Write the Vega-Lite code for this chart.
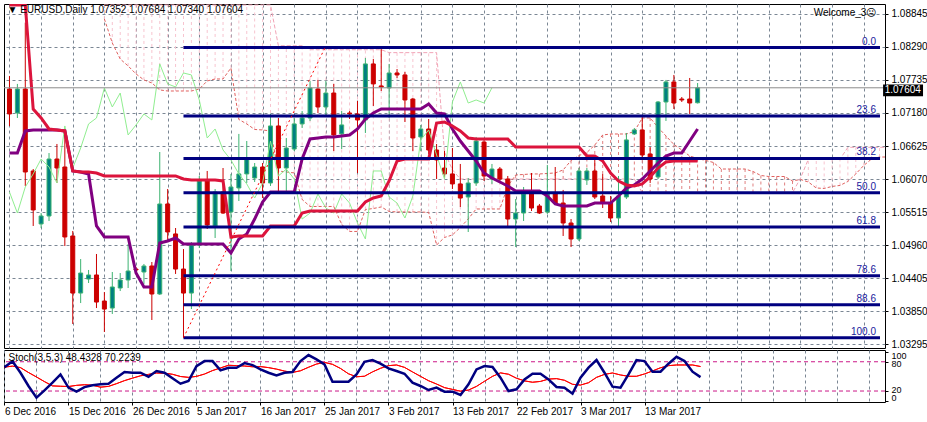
{
"$schema":"https://vega.github.io/schema/vega-lite/v6.json",
"background":"#ffffff",
"padding":{"left":3,"top":3,"right":0,"bottom":0},
"autosize":{"type":"pad"},
"bounds":"flush",
"spacing":2,
"config":{"view":{"stroke":"#000000","strokeWidth":1},"font":"Liberation Sans","axis":{"labelOverlap":false},"title":{"font":"Liberation Sans","fontSize":10,"fontWeight":"normal","color":"#000000","anchor":"start"}},
"datasets":{
"bars":[
{"i":0,"o":1.07584,"h":1.07803,"l":1.06962,"c":1.07164,"t":1.06507,"k":1.08997,"ck":1.05851,"s":69,"sig":69},
{"i":1,"o":1.0718,"h":1.07669,"l":1.07096,"c":1.07584,"t":1.06507,"k":1.08997,"ck":1.05498,"s":81,"sig":71},
{"i":2,"o":1.07584,"h":1.087,"l":1.05953,"c":1.06188,"t":1.06878,"k":1.08997,"ck":1.05936,"s":57.5,"sig":68},
{"i":3,"o":1.06205,"h":1.06238,"l":1.0528,"c":1.05549,"t":1.06895,"k":1.07247,"ck":1.06155,"s":30.3,"sig":58},
{"i":4,"o":1.05314,"h":1.05498,"l":1.05246,"c":1.05448,"t":1.06895,"k":1.07096,"ck":1.06406,"s":6.4,"sig":48.8},
{"i":5,"o":1.05448,"h":1.06507,"l":1.05364,"c":1.06406,"t":1.06895,"k":1.06911,"ck":1.06272,"s":21.4,"sig":39.3},
{"i":6,"o":1.06406,"h":1.06659,"l":1.06003,"c":1.06255,"t":1.06895,"k":1.06895,"ck":1.06003,"s":37,"sig":30.5},
{"i":7,"o":1.06272,"h":1.06878,"l":1.04943,"c":1.05095,"t":1.06878,"k":1.06878,"ck":1.06962,"s":54,"sig":29.8},
{"i":8,"o":1.05112,"h":1.05196,"l":1.03632,"c":1.04152,"t":1.06205,"k":1.06205,"ck":1.06255,"s":27,"sig":29.2},
{"i":9,"o":1.04152,"h":1.04724,"l":1.03984,"c":1.04489,"t":1.06188,"k":1.06188,"ck":1.06591,"s":18.7,"sig":31.6},
{"i":10,"o":1.04388,"h":1.0454,"l":1.04321,"c":1.04456,"t":1.06155,"k":1.06188,"ck":1.06996,"s":28,"sig":32.9},
{"i":11,"o":1.04456,"h":1.04809,"l":1.039,"c":1.04001,"t":1.0528,"k":1.06171,"ck":1.07096,"s":32,"sig":31.9},
{"i":12,"o":1.04018,"h":1.04169,"l":1.03497,"c":1.03883,"t":1.05095,"k":1.06121,"ck":1.07601,"s":33.7,"sig":27.9},
{"i":13,"o":1.039,"h":1.04506,"l":1.038,"c":1.04254,"t":1.05095,"k":1.06121,"ck":1.07281,"s":35,"sig":29.5},
{"i":14,"o":1.04237,"h":1.04489,"l":1.04186,"c":1.04372,"t":1.05095,"k":1.06121,"ck":1.07516,"s":47,"sig":35.1},
{"i":15,"o":1.04372,"h":1.04977,"l":1.04237,"c":1.04523,"t":1.05095,"k":1.06121,"ck":1.06811,"s":59,"sig":41.3},
{"i":16,"o":1.04556,"h":1.0459,"l":1.04506,"c":1.0454,"t":1.04489,"k":1.06121,"ck":1.06979,"s":57.5,"sig":46.4},
{"i":17,"o":1.04506,"h":1.04641,"l":1.04305,"c":1.04607,"t":1.04254,"k":1.06121,"ck":1.07164,"s":57.5,"sig":51.2},
{"i":18,"o":1.04607,"h":1.04674,"l":1.03699,"c":1.04136,"t":1.04254,"k":1.06121,"ck":1.07063,"s":49.4,"sig":54.1},
{"i":19,"o":1.04136,"h":1.06524,"l":1.04119,"c":1.0565,"t":1.04993,"k":1.06121,"ck":1.08005,"s":61,"sig":56.9},
{"i":20,"o":1.0565,"h":1.05902,"l":1.05027,"c":1.05179,"t":1.05027,"k":1.06121,"ck":1.07669,"s":57.5,"sig":56.6},
{"i":21,"o":1.05146,"h":1.05246,"l":1.04473,"c":1.04556,"t":1.05078,"k":1.06121,"ck":1.07618,"s":46,"sig":54.3},
{"i":22,"o":1.04556,"h":1.04892,"l":1.034,"c":1.04152,"t":1.04977,"k":1.0607,"ck":1.07853,"s":35,"sig":49.8},
{"i":23,"o":1.04152,"h":1.0501,"l":1.03883,"c":1.0496,"t":1.04977,"k":1.06054,"ck":1.0782,"s":40.5,"sig":48},
{"i":24,"o":1.0496,"h":1.06121,"l":1.04909,"c":1.06037,"t":1.04977,"k":1.06054,"ck":1.07399,"s":71,"sig":50},
{"i":25,"o":1.06037,"h":1.06205,"l":1.05229,"c":1.05297,"t":1.04977,"k":1.06054,"ck":1.0676,"s":81.4,"sig":54.8},
{"i":26,"o":1.0528,"h":1.05902,"l":1.05078,"c":1.05851,"t":1.04977,"k":1.06054,"ck":1.06911,"s":81.4,"sig":61.9},
{"i":27,"o":1.05851,"h":1.06255,"l":1.05482,"c":1.05498,"t":1.04977,"k":1.06037,"ck":1.06558,"s":62.3,"sig":67.3},
{"i":28,"o":1.05515,"h":1.06155,"l":1.04523,"c":1.05936,"t":1.04825,"k":1.05095,"ck":1.0639,"s":67.8,"sig":72.8},
{"i":29,"o":1.05919,"h":1.06828,"l":1.057,"c":1.06155,"t":1.05061,"k":1.05112,"ck":1.06155,"s":67.8,"sig":72.1},
{"i":30,"o":1.06155,"h":1.06709,"l":1.06003,"c":1.06406,"t":1.05146,"k":1.05112,"ck":1.05987,"s":77.3,"sig":71.3},
{"i":31,"o":1.06087,"h":1.06339,"l":1.0602,"c":1.06272,"t":1.05397,"k":1.05112,"ck":1.0575,"s":73.2,"sig":69.7},
{"i":32,"o":1.06272,"h":1.06339,"l":1.0575,"c":1.06003,"t":1.05683,"k":1.05112,"ck":1.06003,"s":64.4,"sig":70.1},
{"i":33,"o":1.06003,"h":1.07164,"l":1.05953,"c":1.06962,"t":1.05851,"k":1.0528,"ck":1.06709,"s":57.5,"sig":68},
{"i":34,"o":1.06962,"h":1.07096,"l":1.05868,"c":1.06255,"t":1.05851,"k":1.0528,"ck":1.06121,"s":52,"sig":64.9},
{"i":35,"o":1.06255,"h":1.0676,"l":1.05868,"c":1.06591,"t":1.05851,"k":1.0528,"ck":1.06238,"s":57.5,"sig":60.9},
{"i":36,"o":1.06574,"h":1.07096,"l":1.06541,"c":1.06996,"t":1.05851,"k":1.0528,"ck":1.0607,"s":59,"sig":58.1},
{"i":37,"o":1.06996,"h":1.07214,"l":1.06928,"c":1.07096,"t":1.06406,"k":1.05498,"ck":1.05397,"s":81.4,"sig":61.5},
{"i":38,"o":1.07096,"h":1.07719,"l":1.07046,"c":1.07601,"t":1.06743,"k":1.05532,"ck":1.05498,"s":93.7,"sig":68.7},
{"i":39,"o":1.07584,"h":1.07736,"l":1.0718,"c":1.07281,"t":1.0676,"k":1.05532,"ck":1.05818,"s":84.8,"sig":75.3},
{"i":40,"o":1.07281,"h":1.07719,"l":1.0713,"c":1.07516,"t":1.06777,"k":1.05532,"ck":1.05582,"s":74.6,"sig":78.7},
{"i":41,"o":1.07516,"h":1.07669,"l":1.06541,"c":1.06811,"t":1.06777,"k":1.05532,"ck":1.05498,"s":39.1,"sig":74.7},
{"i":42,"o":1.06828,"h":1.07214,"l":1.06574,"c":1.06979,"t":1.06794,"k":1.05532,"ck":1.05818,"s":39.1,"sig":66.3},
{"i":43,"o":1.0718,"h":1.07214,"l":1.07079,"c":1.07164,"t":1.06811,"k":1.05532,"ck":1.05666,"s":39.1,"sig":55.3},
{"i":44,"o":1.07164,"h":1.07382,"l":1.06171,"c":1.07063,"t":1.06911,"k":1.05532,"ck":1.0533,"s":54.2,"sig":49.2},
{"i":45,"o":1.07063,"h":1.08105,"l":1.06844,"c":1.08005,"t":1.07079,"k":1.05683,"ck":1.05061,"s":80,"sig":50.3},
{"i":46,"o":1.08005,"h":1.08088,"l":1.07298,"c":1.07669,"t":1.0718,"k":1.0575,"ck":1.06205,"s":83.5,"sig":59.2},
{"i":47,"o":1.07635,"h":1.0828,"l":1.0755,"c":1.07618,"t":1.07247,"k":1.05784,"ck":1.06205,"s":76,"sig":66.6},
{"i":48,"o":1.07601,"h":1.08005,"l":1.07096,"c":1.07853,"t":1.07247,"k":1.06037,"ck":1.05767,"s":66.4,"sig":72},
{"i":49,"o":1.07853,"h":1.0792,"l":1.07769,"c":1.0782,"t":1.07247,"k":1.06373,"ck":1.05666,"s":61,"sig":73.4},
{"i":50,"o":1.0782,"h":1.0787,"l":1.07029,"c":1.07399,"t":1.07247,"k":1.06406,"ck":1.05414,"s":55.5,"sig":68.5},
{"i":51,"o":1.07415,"h":1.07432,"l":1.06541,"c":1.0676,"t":1.07247,"k":1.06406,"ck":1.05784,"s":37.1,"sig":59.2},
{"i":52,"o":1.06777,"h":1.06979,"l":1.06541,"c":1.06911,"t":1.07247,"k":1.06406,"ck":1.06727,"s":30.3,"sig":50.1},
{"i":53,"o":1.06911,"h":1.07079,"l":1.06491,"c":1.06558,"t":1.07331,"k":1.06406,"ck":1.06895,"s":22.1,"sig":41.2},
{"i":54,"o":1.06558,"h":1.06659,"l":1.0607,"c":1.0639,"t":1.0718,"k":1.07012,"ck":1.06474,"s":26.9,"sig":34.4},
{"i":55,"o":1.06255,"h":1.06541,"l":1.0607,"c":1.06155,"t":1.07164,"k":1.07029,"ck":1.0607,"s":18.7,"sig":27},
{"i":56,"o":1.06155,"h":1.06591,"l":1.05902,"c":1.05987,"t":1.06911,"k":1.06962,"ck":1.07365,"s":18.7,"sig":23.3},
{"i":57,"o":1.05987,"h":1.06323,"l":1.05599,"c":1.0575,"t":1.06709,"k":1.06878,"ck":1.07702,"s":11.9,"sig":19.7},
{"i":58,"o":1.05767,"h":1.06087,"l":1.05179,"c":1.06003,"t":1.06541,"k":1.0676,"ck":1.07348,"s":33.7,"sig":22},
{"i":59,"o":1.06003,"h":1.06777,"l":1.05953,"c":1.06709,"t":1.06373,"k":1.06743,"ck":1.07399,"s":64.4,"sig":29.5},
{"i":60,"o":1.06692,"h":1.0676,"l":1.06037,"c":1.06121,"t":1.06171,"k":1.06743,"ck":1.07348,"s":71.2,"sig":40},
{"i":61,"o":1.0607,"h":1.06323,"l":1.05987,"c":1.06238,"t":1.06087,"k":1.06743,"ck":1.07604,"s":69.2,"sig":50.1},
{"i":62,"o":1.06238,"h":1.06272,"l":1.06003,"c":1.0607,"t":1.0602,"k":1.06743,"s":47.3,"sig":57.2},
{"i":63,"o":1.0607,"h":1.06121,"l":1.05246,"c":1.05397,"t":1.05953,"k":1.06743,"s":20,"sig":54.4},
{"i":64,"o":1.05397,"h":1.05733,"l":1.04926,"c":1.05498,"t":1.05868,"k":1.06608,"s":23.5,"sig":46.2},
{"i":65,"o":1.05498,"h":1.05936,"l":1.05364,"c":1.05818,"t":1.05868,"k":1.06608,"s":43.9,"sig":40.8},
{"i":66,"o":1.05818,"h":1.06171,"l":1.05532,"c":1.05582,"t":1.05868,"k":1.06608,"s":55.5,"sig":38},
{"i":67,"o":1.05616,"h":1.0565,"l":1.05482,"c":1.05498,"t":1.05868,"k":1.06608,"s":55.5,"sig":39.7},
{"i":68,"o":1.05515,"h":1.06306,"l":1.05482,"c":1.05818,"t":1.05784,"k":1.06608,"s":43.9,"sig":44.5},
{"i":69,"o":1.05818,"h":1.06272,"l":1.05633,"c":1.05666,"t":1.0565,"k":1.06608,"s":28.2,"sig":45.4},
{"i":70,"o":1.05666,"h":1.05886,"l":1.05112,"c":1.0533,"t":1.05616,"k":1.06608,"s":26.9,"sig":42},
{"i":71,"o":1.0533,"h":1.05397,"l":1.04926,"c":1.05061,"t":1.05616,"k":1.06608,"s":14.6,"sig":33.8},
{"i":72,"o":1.05061,"h":1.06255,"l":1.05027,"c":1.06205,"t":1.05616,"k":1.06608,"s":47.3,"sig":32.2},
{"i":73,"o":1.06054,"h":1.06255,"l":1.0597,"c":1.06205,"t":1.05616,"k":1.06457,"s":67.8,"sig":37},
{"i":74,"o":1.06205,"h":1.0639,"l":1.05733,"c":1.05767,"t":1.05666,"k":1.06457,"s":83.5,"sig":48},
{"i":75,"o":1.05784,"h":1.06155,"l":1.05582,"c":1.05666,"t":1.05666,"k":1.06373,"s":57.5,"sig":54.1},
{"i":76,"o":1.05666,"h":1.05784,"l":1.05347,"c":1.05414,"t":1.05666,"k":1.06171,"s":28.9,"sig":57},
{"i":77,"o":1.05414,"h":1.06121,"l":1.05246,"c":1.05784,"t":1.05784,"k":1.06037,"s":26.9,"sig":52.9},
{"i":78,"o":1.05767,"h":1.06844,"l":1.05733,"c":1.06727,"t":1.05919,"k":1.0597,"s":54.2,"sig":50.2},
{"i":79,"o":1.06828,"h":1.06928,"l":1.06811,"c":1.06895,"t":1.0597,"k":1.05953,"s":83.5,"sig":50.2},
{"i":80,"o":1.06895,"h":1.07113,"l":1.06406,"c":1.06474,"t":1.0607,"k":1.05987,"s":81.4,"sig":55},
{"i":81,"o":1.06491,"h":1.06608,"l":1.06003,"c":1.0607,"t":1.06205,"k":1.06104,"s":59.6,"sig":61.1},
{"i":82,"o":1.06104,"h":1.07382,"l":1.0607,"c":1.07365,"t":1.06339,"k":1.06255,"s":59.6,"sig":67.7},
{"i":83,"o":1.07365,"h":1.07736,"l":1.07046,"c":1.07702,"t":1.06457,"k":1.06356,"s":76,"sig":72},
{"i":84,"o":1.07702,"h":1.0782,"l":1.07247,"c":1.07348,"t":1.06507,"k":1.06373,"s":90.3,"sig":73.4},
{"i":85,"o":1.07415,"h":1.07449,"l":1.07365,"c":1.07399,"t":1.06507,"k":1.06373,"s":81.4,"sig":73.4},
{"i":86,"o":1.07415,"h":1.07769,"l":1.07164,"c":1.07348,"t":1.06709,"k":1.06373,"s":59.6,"sig":73.4},
{"i":87,"o":1.07352,"h":1.07684,"l":1.0734,"c":1.07604,"t":1.06911,"k":1.06373,"s":48.4328,"sig":70.2239}
],
"cloud":[
{"i":12,"a":1.08761,"b":1.08997},{"i":13,"a":1.08357,"b":1.08997},{"i":14,"a":1.08088,"b":1.08997},{"i":15,"a":1.07971,"b":1.08997},
{"i":16,"a":1.07837,"b":1.08997},{"i":17,"a":1.07736,"b":1.08997},{"i":18,"a":1.07685,"b":1.08997},{"i":19,"a":1.07568,"b":1.08997},
{"i":20,"a":1.0755,"b":1.08997},{"i":21,"a":1.0755,"b":1.08997},{"i":22,"a":1.0755,"b":1.08997},{"i":23,"a":1.0755,"b":1.08997},
{"i":24,"a":1.07584,"b":1.08997},{"i":25,"a":1.07719,"b":1.08997},{"i":26,"a":1.07752,"b":1.08997},{"i":27,"a":1.07752,"b":1.08997},
{"i":28,"a":1.07938,"b":1.08997},{"i":29,"a":1.07071,"b":1.08997},{"i":30,"a":1.06996,"b":1.08997},{"i":31,"a":1.06903,"b":1.08997},
{"i":32,"a":1.06895,"b":1.08997},{"i":33,"a":1.06878,"b":1.08997},{"i":34,"a":1.06205,"b":1.08311},{"i":35,"a":1.06188,"b":1.08311},
{"i":36,"a":1.06172,"b":1.08311},{"i":37,"a":1.05726,"b":1.08311},{"i":38,"a":1.05608,"b":1.08244},{"i":39,"a":1.05608,"b":1.08244},
{"i":40,"a":1.05608,"b":1.08244},{"i":41,"a":1.05608,"b":1.08244},{"i":42,"a":1.05305,"b":1.08244},{"i":43,"a":1.05188,"b":1.08244},
{"i":44,"a":1.05188,"b":1.08244},{"i":45,"a":1.05557,"b":1.08244},{"i":46,"a":1.05574,"b":1.08244},{"i":47,"a":1.056,"b":1.08244},
{"i":48,"a":1.05524,"b":1.08195},{"i":49,"a":1.05516,"b":1.08195},{"i":50,"a":1.05516,"b":1.08195},{"i":51,"a":1.05516,"b":1.08195},
{"i":52,"a":1.05516,"b":1.08195},{"i":53,"a":1.05507,"b":1.08195},{"i":54,"a":1.0496,"b":1.08195},{"i":55,"a":1.05087,"b":1.06525},
{"i":56,"a":1.05129,"b":1.06225},{"i":57,"a":1.05255,"b":1.0607},{"i":58,"a":1.05398,"b":1.0607},{"i":59,"a":1.05566,"b":1.0607},
{"i":60,"a":1.05566,"b":1.0607},{"i":61,"a":1.05566,"b":1.0607},{"i":62,"a":1.05566,"b":1.0607},{"i":63,"a":1.05952,"b":1.0607},
{"i":64,"a":1.06138,"b":1.0607},{"i":65,"a":1.06146,"b":1.0607},{"i":66,"a":1.06155,"b":1.0607},{"i":67,"a":1.06155,"b":1.0607},
{"i":68,"a":1.06163,"b":1.0607},{"i":69,"a":1.06172,"b":1.0607},{"i":70,"a":1.06222,"b":1.0607},{"i":71,"a":1.06381,"b":1.0607},
{"i":72,"a":1.06465,"b":1.0607},{"i":73,"a":1.06516,"b":1.0607},{"i":74,"a":1.06642,"b":1.0607},{"i":75,"a":1.0681,"b":1.0607},
{"i":76,"a":1.06827,"b":1.0607},{"i":77,"a":1.06827,"b":1.0607},{"i":78,"a":1.06827,"b":1.0607},{"i":79,"a":1.06869,"b":1.0607},
{"i":80,"a":1.07096,"b":1.0584},{"i":81,"a":1.07097,"b":1.0584},{"i":82,"a":1.06937,"b":1.0584},{"i":83,"a":1.06794,"b":1.0584},
{"i":84,"a":1.06651,"b":1.0584},{"i":85,"a":1.06558,"b":1.0584},{"i":86,"a":1.06457,"b":1.0584},{"i":87,"a":1.06415,"b":1.0584},
{"i":88,"a":1.06382,"b":1.0584},{"i":89,"a":1.06348,"b":1.0584},{"i":90,"a":1.06238,"b":1.0584},{"i":91,"a":1.06238,"b":1.0584},
{"i":92,"a":1.06238,"b":1.0584},{"i":93,"a":1.06238,"b":1.0584},{"i":94,"a":1.06196,"b":1.0584},{"i":95,"a":1.06129,"b":1.0584},
{"i":96,"a":1.06112,"b":1.0584},{"i":97,"a":1.06112,"b":1.0584},{"i":98,"a":1.06112,"b":1.0584},{"i":99,"a":1.06037,"b":1.0584},
{"i":100,"a":1.06062,"b":1.06082},{"i":101,"a":1.0602,"b":1.06402},{"i":102,"a":1.05919,"b":1.06402},{"i":103,"a":1.05911,"b":1.06402},
{"i":104,"a":1.05945,"b":1.06402},{"i":105,"a":1.05962,"b":1.06402},{"i":106,"a":1.06029,"b":1.06603},{"i":107,"a":1.06155,"b":1.06603},
{"i":108,"a":1.06297,"b":1.06603},{"i":109,"a":1.06407,"b":1.06603},{"i":110,"a":1.0644,"b":1.06603},{"i":111,"a":1.0644,"b":1.06603},
{"i":112,"a":1.06541,"b":1.06603},{"i":113,"a":1.06642,"b":1.06603}
],
"fib":[
{"level":"0.0","price":1.0828},{"level":"23.6","price":1.07128},{"level":"38.2","price":1.06416},{"level":"50.0","price":1.0584},
{"level":"61.8","price":1.05264},{"level":"78.6","price":1.04444},{"level":"88.6","price":1.03956},{"level":"100.0","price":1.034}
],
"anchor":[{"i1":22,"p1":1.034,"i2":39.9,"p2":1.0828}],
"quote":[{"label":"1.07604","price":1.07604}],
"notes":[{"text":"Welcome_3☹","price":1.08862}],
"stochlevels":[{"lvl":20},{"lvl":80}]
},
"vconcat":[
{
"width":881,"height":344,
"title":{"text":"▼ EURUSD,Daily  1.07352 1.07684 1.07340 1.07604","offset":-19,"baseline":"alphabetic","dx":4},
"layer":[
{"data":{"name":"cloud"},"mark":{"type":"rule","strokeDash":[3,3],"strokeWidth":1,"clip":true},
 "encoding":{
  "x":{"field":"i","type":"quantitative","scale":{"domain":[-0.06,110.06],"nice":false,"zero":false},
       "axis":{"values":[0,4,8,12,16,20,24,28,32,36,40,44,48,52,56,60,64,68,72,76,80,84,88,92,96,100,104,108],"tickCount":200,"grid":true,"gridDash":[3,3],"gridColor":"#7B8794","labels":false,"ticks":false,"domain":false,"title":null}},
  "y":{"field":"a","type":"quantitative","scale":{"domain":[1.03228,1.09013],"nice":false,"zero":false},
       "axis":{"orient":"right","values":[1.03295,1.0385,1.04405,1.0496,1.05515,1.0607,1.06625,1.0718,1.07735,1.0829,1.08845],"tickCount":200,"format":".5f","grid":true,"gridDash":[3,3],"gridColor":"#7B8794","title":null,"tickSize":3,"tickColor":"#000000","domain":false,"labelFont":"Liberation Sans","labelFontSize":10,"labelColor":"#000000","labelPadding":3,"labelOverlap":false,"labelBound":false}},
  "y2":{"field":"b"},
  "color":{"condition":{"test":"datum.a > datum.b","value":"#E08080"},"value":"#F7C4CF"}}},
{"data":{"name":"cloud"},"mark":{"type":"line","strokeDash":[3,2],"strokeWidth":1,"color":"#E0605E","clip":true},
 "encoding":{"x":{"field":"i","type":"quantitative"},
  "y":{"field":"a","type":"quantitative"}}},
{"data":{"name":"cloud"},"mark":{"type":"line","strokeDash":[4,2],"strokeWidth":1,"color":"#F2A4B6","clip":true},
 "encoding":{"x":{"field":"i","type":"quantitative"},
  "y":{"field":"b","type":"quantitative"}}},
{"data":{"name":"bars"},"mark":{"type":"rule","strokeWidth":1,"clip":true},
 "encoding":{"x":{"field":"i","type":"quantitative"},
  "y":{"field":"l","type":"quantitative"},
  "y2":{"field":"h"},
  "color":{"condition":{"test":"datum.c >= datum.o","value":"#3CB371"},"value":"#CC0000"}}},
{"data":{"name":"bars"},"mark":{"type":"bar","width":4,"strokeWidth":1,"clip":true},
 "encoding":{"x":{"field":"i","type":"quantitative"},
  "y":{"field":"o","type":"quantitative"},
  "y2":{"field":"c"},
  "fill":{"condition":{"test":"datum.c >= datum.o","value":"#008080"},"value":"#CC0000"},
  "stroke":{"condition":{"test":"datum.c >= datum.o","value":"#3CB371"},"value":"#CC0000"}}},
{"data":{"name":"bars"},"transform":[{"filter":"isValid(datum.ck)"}],"mark":{"type":"line","strokeWidth":1,"color":"#90EE90","clip":true},
 "encoding":{"x":{"field":"i","type":"quantitative"},
  "y":{"field":"ck","type":"quantitative"}}},
{"data":{"name":"bars"},"mark":{"type":"line","strokeWidth":3,"color":"#800080","clip":true},
 "encoding":{"x":{"field":"i","type":"quantitative"},
  "y":{"field":"t","type":"quantitative"}}},
{"data":{"name":"bars"},"mark":{"type":"line","strokeWidth":3,"color":"#DC143C","clip":true},
 "encoding":{"x":{"field":"i","type":"quantitative"},
  "y":{"field":"k","type":"quantitative"}}},
{"data":{"name":"quote"},"mark":{"type":"rule","strokeWidth":1,"color":"#8C8C8C"},
 "encoding":{"y":{"field":"price","type":"quantitative"}}},
{"data":{"name":"fib"},"mark":{"type":"rule","strokeWidth":3,"color":"#000080"},
 "encoding":{"x":{"datum":22,"type":"quantitative"},
  "x2":{"datum":110.06},
  "y":{"field":"price","type":"quantitative"}}},
{"data":{"name":"anchor"},"mark":{"type":"rule","strokeWidth":1,"color":"#FF0000","strokeDash":[2,3]},
 "encoding":{"x":{"field":"i1","type":"quantitative"},
  "x2":{"field":"i2"},
  "y":{"field":"p1","type":"quantitative"},
  "y2":{"field":"p2"}}},
{"data":{"name":"fib"},"mark":{"type":"text","align":"right","baseline":"alphabetic","dy":-3,"fontSize":10,"font":"Liberation Sans","color":"#20209C"},
 "encoding":{"x":{"datum":109.55,"type":"quantitative"},
  "y":{"field":"price","type":"quantitative"},
  "text":{"field":"level"}}},
{"data":{"name":"notes"},"mark":{"type":"text","align":"right","baseline":"middle","fontSize":10,"font":"Liberation Sans","color":"#000000"},
 "encoding":{"x":{"datum":109.6,"type":"quantitative"},
  "y":{"field":"price","type":"quantitative"},
  "text":{"field":"text"}}},
{"data":{"name":"quote"},"mark":{"type":"rect","color":"#000000","clip":false},
 "encoding":{"x":{"datum":110.45,"type":"quantitative"},
  "x2":{"datum":115.5},
  "y":{"datum":1.0766,"type":"quantitative"},
  "y2":{"datum":1.0746}}},
{"data":{"name":"quote"},"mark":{"type":"text","align":"left","baseline":"middle","fontSize":10,"font":"Liberation Sans","color":"#FFFFFF","clip":false,"dy":2},
 "encoding":{"x":{"datum":110.65,"type":"quantitative"},
  "y":{"field":"price","type":"quantitative"},
  "text":{"field":"label"}}}
]
},
{
"width":881,"height":52,
"title":{"text":"Stoch(3,5,3) 48.4328 70.2239","offset":-21,"baseline":"alphabetic","dx":5},
"layer":[
{"data":{"name":"bars"},"mark":{"type":"line","strokeWidth":1,"color":"#FF0000","clip":true},
 "encoding":{
  "x":{"field":"i","type":"quantitative","scale":{"domain":[-0.06,110.06],"nice":false,"zero":false},
   "axis":{"orient":"bottom","values":[0,4,8,12,16,20,24,28,32,36,40,44,48,52,56,60,64,68,72,76,80,84,88,92,96,100,104,108],"tickCount":200,"grid":true,"gridDash":[3,3],"gridColor":"#7B8794","domain":false,"title":null,"tickSize":3,
    "tickColor":{"condition":{"test":"datum.value % 8 == 0 && datum.value <= 80","value":"#000000"},"value":"transparent"},
    "labelExpr":"(datum.value % 8 == 0 && datum.value <= 80) ? ['6 Dec 2016','15 Dec 2016','26 Dec 2016','5 Jan 2017','16 Jan 2017','25 Jan 2017','3 Feb 2017','13 Feb 2017','22 Feb 2017','3 Mar 2017','13 Mar 2017'][datum.value / 8] : ''",
    "labelAlign":"left","labelFont":"Liberation Sans","labelFontSize":10,"labelColor":"#000000","labelPadding":1,"labelOverlap":false,"labelFlush":false,"labelBound":false}},
  "y":{"field":"sig","type":"quantitative","scale":{"domain":[-2.5,104.1],"nice":false,"zero":false},
   "axis":{"orient":"right","values":[0,20,80,100],"tickCount":200,"format":"d","grid":false,"title":null,"tickSize":3,"tickColor":"#000000","domain":false,"labelFont":"Liberation Sans","labelFontSize":9,"labelColor":"#000000","labelPadding":3,"labelOverlap":false,
    "labelOffset":{"condition":[{"test":"datum.value == 100","value":3},{"test":"datum.value == 80","value":2},{"test":"datum.value == 20","value":-2},{"test":"datum.value == 0","value":-3}],"value":0}}}}},
{"data":{"name":"stochlevels"},"mark":{"type":"rule","strokeWidth":1,"color":"#CC1888","strokeDash":[4,3]},
 "encoding":{"y":{"field":"lvl","type":"quantitative"}}},
{"data":{"name":"bars"},"mark":{"type":"line","strokeWidth":1,"color":"#FF0000","clip":true},
 "encoding":{"x":{"field":"i","type":"quantitative"},
  "y":{"field":"sig","type":"quantitative"}}},
{"data":{"name":"bars"},"mark":{"type":"line","strokeWidth":2.5,"color":"#000080","clip":true},
 "encoding":{"x":{"field":"i","type":"quantitative"},
  "y":{"field":"s","type":"quantitative"}}}
]
}
]
}
